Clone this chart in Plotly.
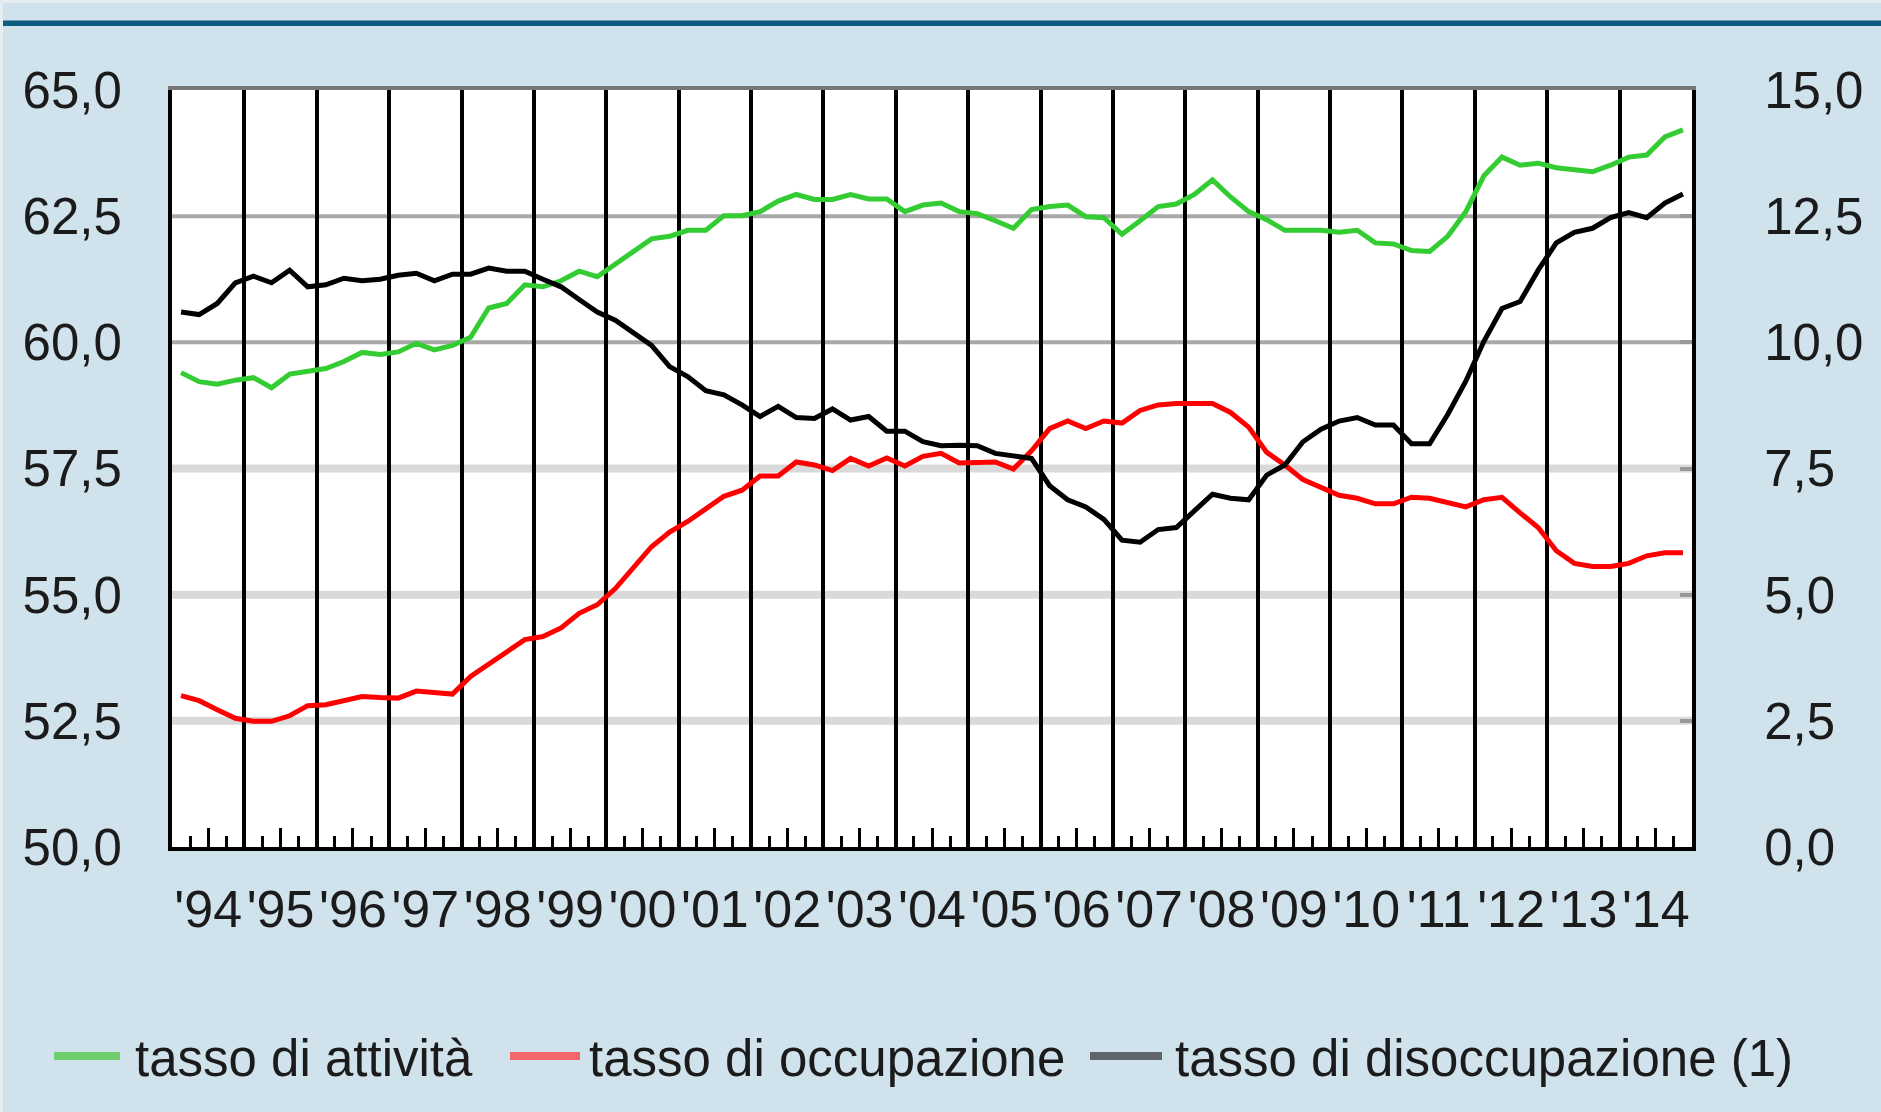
import plotly.graph_objects as go

# ---------------- data ----------------
years = list(range(1994, 2015))
quarters = [1, 2, 3, 4]
year_labels = ["'94", "'95", "'96", "'97", "'98", "'99", "'00", "'01", "'02", "'03", "'04",
               "'05", "'06", "'07", "'08", "'09", "'10", "'11", "'12", "'13", "'14"]

# tasso di attività (left axis, %)
attivita = [
    59.40, 59.22, 59.17, 59.25,  # 1994
    59.30, 59.10, 59.37, 59.42,  # 1995
    59.48, 59.62, 59.80, 59.76,  # 1996
    59.81, 59.98, 59.85, 59.94,  # 1997
    60.10, 60.68, 60.77, 61.14,  # 1998
    61.10, 61.22, 61.41, 61.30,  # 1999
    61.56, 61.80, 62.05, 62.10,  # 2000
    62.22, 62.22, 62.51, 62.51,  # 2001
    62.59, 62.80, 62.93, 62.83,  # 2002
    62.83, 62.93, 62.84, 62.84,  # 2003
    62.59, 62.72, 62.76, 62.59,  # 2004
    62.55, 62.41, 62.26, 62.63,  # 2005
    62.69, 62.72, 62.49, 62.47,  # 2006
    62.14, 62.41, 62.69, 62.74,  # 2007
    62.93, 63.22, 62.88, 62.59,  # 2008
    62.43, 62.22, 62.22, 62.22,  # 2009
    62.18, 62.22, 61.97, 61.95,  # 2010
    61.82, 61.80, 62.10, 62.59,  # 2011
    63.30, 63.67, 63.51, 63.55,  # 2012
    63.46, 63.42, 63.38, 63.51,  # 2013
    63.67, 63.71, 64.07, 64.21,  # 2014
]

# tasso di occupazione (left axis, %)
occupazione = [
    53.00, 52.90, 52.72, 52.55,
    52.49, 52.49, 52.60, 52.80,
    52.82, 52.90, 52.98, 52.96,
    52.95, 53.09, 53.05, 53.03,
    53.38, 53.63, 53.88, 54.11,
    54.17, 54.34, 54.63, 54.80,
    55.12, 55.54, 55.95, 56.24,
    56.45, 56.70, 56.95, 57.07,
    57.35, 57.35, 57.63, 57.57,
    57.46, 57.70, 57.55, 57.71,
    57.55, 57.74, 57.80, 57.61,
    57.63, 57.63, 57.49, 57.85,
    58.29, 58.44, 58.29, 58.44,
    58.40, 58.65, 58.76, 58.79,
    58.79, 58.79, 58.61, 58.32,
    57.82, 57.57, 57.28, 57.13,
    56.97, 56.91, 56.80, 56.80,
    56.93, 56.91, 56.83, 56.74,
    56.88, 56.93, 56.62, 56.33,
    55.87, 55.62, 55.56, 55.56,
    55.62, 55.77, 55.83, 55.83,
]

# tasso di disoccupazione (right axis, %)
disoccupazione = [
    10.60, 10.55, 10.77, 11.18,
    11.31, 11.18, 11.43, 11.10,
    11.14, 11.27, 11.22, 11.25,
    11.33, 11.37, 11.22, 11.35,
    11.35, 11.47, 11.41, 11.41,
    11.25, 11.10, 10.85, 10.60,
    10.44, 10.19, 9.94, 9.52,
    9.32, 9.04, 8.96, 8.76,
    8.53, 8.73, 8.51, 8.49,
    8.68, 8.46, 8.53, 8.24,
    8.24, 8.03, 7.95, 7.96,
    7.95, 7.80, 7.74, 7.70,
    7.16, 6.88, 6.74, 6.49,
    6.08, 6.04, 6.29, 6.33,
    6.66, 6.99, 6.91, 6.88,
    7.37, 7.57, 8.03, 8.28,
    8.44, 8.51, 8.36, 8.36,
    7.99, 7.99, 8.57, 9.23,
    10.02, 10.67, 10.81, 11.43,
    11.97, 12.18, 12.26, 12.47,
    12.57, 12.47, 12.76, 12.94,
]

left_ticks = [50.0, 52.5, 55.0, 57.5, 60.0, 62.5, 65.0]
right_ticks = [0.0, 2.5, 5.0, 7.5, 10.0, 12.5, 15.0]
grid_dark = [60.0, 62.5]
grid_light = [52.5, 55.0, 57.5]

series_names = ["tasso di attività", "tasso di occupazione", "tasso di disoccupazione (1)"]

# ---------------- figure ----------------
W, H = 1881, 1112
L, R, T, B = 172, 189, 90, 265
PW, PH = W - L - R, H - T - B

def px_x(p):
    return (p - L) / PW

def px_y(p):
    return (H - B - p) / PH

FONT = "Liberation Sans, Arial, sans-serif"
TXT = "#1b1b1b"

xs = [y + (q - 0.5) / 4 for y in years for q in quarters]

fig = go.Figure()
fig.add_trace(go.Scatter(x=xs, y=attivita, mode="lines", name=series_names[0],
                         line=dict(color="#33cc33", width=5), xaxis="x", yaxis="y",
                         showlegend=False))
fig.add_trace(go.Scatter(x=xs, y=occupazione, mode="lines", name=series_names[1],
                         line=dict(color="#ff0000", width=5), xaxis="x", yaxis="y",
                         showlegend=False))
fig.add_trace(go.Scatter(x=xs, y=disoccupazione, mode="lines", name=series_names[2],
                         line=dict(color="#000000", width=5), xaxis="x2", yaxis="y2",
                         showlegend=False))

shapes = []
for v in grid_light:
    shapes.append(dict(type="line", xref="paper", yref="y", x0=0, x1=1, y0=v, y1=v,
                       line=dict(color="#d9d9d9", width=8), layer="below"))
for v in grid_dark:
    shapes.append(dict(type="line", xref="paper", yref="y", x0=0, x1=1, y0=v, y1=v,
                       line=dict(color="#a8a8a8", width=4), layer="below"))

# header decoration / frame strips
shapes.append(dict(type="rect", xref="paper", yref="paper", x0=px_x(0), x1=px_x(W),
                   y0=px_y(3), y1=px_y(0), line=dict(width=0), fillcolor="#e4edf2",
                   layer="below"))
shapes.append(dict(type="rect", xref="paper", yref="paper", x0=px_x(0), x1=px_x(3),
                   y0=px_y(H), y1=px_y(0), line=dict(width=0), fillcolor="#e4edf2",
                   layer="below"))
shapes.append(dict(type="rect", xref="paper", yref="paper", x0=px_x(3), x1=px_x(W),
                   y0=px_y(26), y1=px_y(20.5), line=dict(width=0), fillcolor="#0b5a80"))

# manual legend
legend_colors = ["#6ccf6c", "#f4666c", "#5f656b"]
legend_line_x = [(54, 120), (510, 580), (1090, 1162)]
legend_text_x = [133, 587, 1173]
legend_y = 1056
annotations = []
for name, col, (a, b), tx in zip(series_names, legend_colors, legend_line_x, legend_text_x):
    shapes.append(dict(type="line", xref="paper", yref="paper", x0=px_x(a), x1=px_x(b),
                       y0=px_y(legend_y), y1=px_y(legend_y), line=dict(color=col, width=8)))
    annotations.append(dict(xref="paper", yref="paper", x=px_x(tx), y=px_y(legend_y + 2),
                            text=name, showarrow=False, xanchor="left", yanchor="middle",
                            font=dict(family=FONT, size=51, color=TXT)))

fig.update_layout(
    width=W, height=H, autosize=False,
    margin=dict(l=L, r=R, t=T, b=B, pad=0),
    paper_bgcolor="#d0e2ec", plot_bgcolor="#ffffff",
    separators=",.",
    showlegend=False,
    shapes=shapes, annotations=annotations,
    xaxis=dict(range=[1994, 2015], tickmode="array",
               tickvals=[y + 0.5 for y in years], ticktext=year_labels,
               ticks="inside", ticklen=19, tickwidth=3, tickcolor="#000000",
               minor=dict(tickmode="array",
                          tickvals=[y + f for y in years for f in (0.25, 0.75)],
                          ticks="inside", ticklen=11, tickwidth=3, tickcolor="#000000",
                          showgrid=False),
               showgrid=False, zeroline=False,
               showline=True, linecolor="#000000", linewidth=4,
               tickfont=dict(family=FONT, size=52, color=TXT),
               ticklabelstandoff=14, fixedrange=True),
    xaxis2=dict(range=[1994, 2015], overlaying="x", side="top", anchor="y",
                tickmode="array", tickvals=years[1:], showticklabels=False, ticks="",
                showgrid=True, gridcolor="#000000", gridwidth=4, zeroline=False,
                showline=True, linecolor="#777777", linewidth=4, fixedrange=True),
    yaxis=dict(range=[50, 65], tickmode="array", tickvals=left_ticks, tickformat=".1f",
               ticks="", showgrid=False, zeroline=False,
               showline=True, linecolor="#000000", linewidth=4,
               tickfont=dict(family=FONT, size=51, color=TXT),
               ticklabelstandoff=36, fixedrange=True),
    yaxis2=dict(range=[0, 15], overlaying="y", side="right", anchor="x2",
                tickmode="array", tickvals=right_ticks, tickformat=".1f",
                ticks="inside", ticklen=12, tickwidth=4, tickcolor="#999999",
                showgrid=False, zeroline=False,
                showline=True, linecolor="#000000", linewidth=4,
                tickfont=dict(family=FONT, size=51, color=TXT),
                ticklabelstandoff=58, fixedrange=True),
)

fig.write_html("out.html", config={"displayModeBar": False},
               post_script="document.body.style.margin='0';document.body.style.overflow='hidden';")
